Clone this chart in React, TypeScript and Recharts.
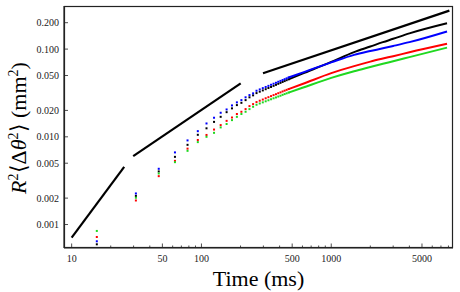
import React from 'react';
import { ComposedChart, XAxis, YAxis, Line, Scatter } from 'recharts';

const W = 460;
const H = 292;
const MARGIN = { top: 6, right: 7, bottom: 0, left: 0 };
const Y_AXIS_W = 64;
const X_AXIS_H = 44;
const FONT = '"Liberation Serif", "Times New Roman", serif';
const AXIS_COLOR = '#222';

const X_DOMAIN = [8.73, 8670];
const Y_DOMAIN = [0.00054, 0.31];

// sampled frames (every 15.625 ms)
const dotTimes = [15.625, 31.25, 46.875, 62.5, 78.125, 93.75, 109.375, 125, 140.625, 156.25, 171.875, 187.5, 203.125, 218.75, 234.375, 250, 265.625, 281.25, 296.875, 312.5, 328.125, 343.75, 359.375, 375, 390.625, 406.25, 421.875, 437.5, 453.125, 468.75];
const blueDots = [0.000644, 0.00226, 0.00432, 0.00664, 0.0091, 0.0116, 0.0142, 0.0165, 0.0188, 0.0205, 0.0228, 0.0247, 0.0262, 0.0282, 0.0299, 0.0313, 0.0335, 0.0347, 0.0359, 0.037, 0.0381, 0.0392, 0.0403, 0.0413, 0.0424, 0.0434, 0.0444, 0.0454, 0.0464, 0.0474];
const blackDots = [0.000595, 0.00212, 0.00403, 0.00591, 0.0081, 0.01054, 0.0125, 0.0148, 0.0169, 0.0191, 0.0211, 0.023, 0.0244, 0.0262, 0.0282, 0.0297, 0.0315, 0.0327, 0.0338, 0.0349, 0.036, 0.037, 0.0381, 0.0391, 0.0402, 0.0412, 0.0422, 0.0432, 0.0442, 0.0452];
const redDots = [0.000721, 0.00188, 0.00356, 0.00532, 0.00733, 0.0092, 0.0105, 0.0121, 0.0136, 0.0152, 0.0166, 0.0182, 0.0193, 0.0207, 0.0224, 0.0236, 0.0249, 0.0258, 0.0266, 0.0275, 0.0283, 0.0291, 0.0299, 0.0306, 0.0314, 0.0321, 0.0329, 0.0336, 0.0343, 0.035];
const greenDots = [0.000845, 0.00202, 0.00382, 0.00514, 0.00692, 0.0087, 0.01, 0.0111, 0.0128, 0.014, 0.0155, 0.0169, 0.0182, 0.0193, 0.0207, 0.022, 0.0232, 0.024, 0.0247, 0.0254, 0.0261, 0.0268, 0.0275, 0.0281, 0.0288, 0.0294, 0.0301, 0.0307, 0.0313, 0.0319];

// dense part (points merge into a band)
const denseTimes = [468.75, 600, 1000, 1500, 2000, 2500, 3000, 4000, 7800];
const blueDense = [0.0474, 0.054, 0.0705, 0.086, 0.095, 0.102, 0.1085, 0.12, 0.159];
const blackDense = [0.0452, 0.0525, 0.0715, 0.0925, 0.107, 0.12, 0.131, 0.151, 0.197];
const redDense = [0.035, 0.04, 0.0532, 0.064, 0.072, 0.078, 0.083, 0.092, 0.115];
const greenDense = [0.0319, 0.0362, 0.047, 0.056, 0.0625, 0.068, 0.0727, 0.081, 0.104];

// power-law guide lines
const fit1T = [10, 25.4];
const fit1V = [0.00071, 0.00455];
const fit2T = [29.8, 200.6];
const fit2V = [0.00603, 0.0407];
const fit3T = [298, 8128];
const fit3V = [0.053, 0.2745];

const xTicks = [10, 20, 30, 40, 50, 60, 70, 80, 90, 100, 200, 300, 400, 500, 600, 700, 800, 900, 1000, 2000, 3000, 4000, 5000, 6000, 7000, 8000];
const xTickLabels = [10, 50, 100, 500, 1000, 5000];
const yTicks = [0.001, 0.002, 0.005, 0.01, 0.02, 0.05, 0.1, 0.2];
const yTickLabels = ['0.001', '0.002', '0.005', '0.010', '0.020', '0.050', '0.100', '0.200'];

const COLORS = { blue: '#0000ff', black: '#000000', red: '#ff0000', green: '#1fd81f' };

const pts = (ts: number[], vs: number[]) => ts.map((t, i) => ({ t, v: vs[i] }));

const square = (color: string) => (p: any) => (
  <rect x={p.cx - 1} y={p.cy - 1} width={2} height={2} fill={color} />
);

const BottomTick = (p: any) => {
  const major = xTickLabels.includes(p.payload.value);
  return (
    <g>
      <line x1={p.x} y1={p.y} x2={p.x} y2={p.y - (major ? 4.5 : 2.5)} stroke={AXIS_COLOR} strokeWidth={0.8} />
      {major && (
        <text x={p.x} y={p.y + 14} textAnchor="middle" fontFamily={FONT} fontSize={10} fill="#222">
          {p.payload.value}
        </text>
      )}
    </g>
  );
};

const TopTick = (p: any) => {
  const major = xTickLabels.includes(p.payload.value);
  return <line x1={p.x} y1={p.y} x2={p.x} y2={p.y + (major ? 4.5 : 2.5)} stroke={AXIS_COLOR} strokeWidth={0.8} />;
};

const LeftTick = (p: any) => {
  const idx = yTicks.indexOf(p.payload.value);
  return (
    <g>
      <line x1={p.x} y1={p.y} x2={p.x + 4} y2={p.y} stroke={AXIS_COLOR} strokeWidth={0.8} />
      <text x={p.x - 5} y={p.y + 3.5} textAnchor="end" fontFamily={FONT} fontSize={10} fill="#222">
        {idx >= 0 ? yTickLabels[idx] : ''}
      </text>
    </g>
  );
};

const RightTick = (p: any) => (
  <line x1={p.x} y1={p.y} x2={p.x - 4} y2={p.y} stroke={AXIS_COLOR} strokeWidth={0.8} />
);

const PLOT_LEFT = MARGIN.left + Y_AXIS_W;
const PLOT_RIGHT = W - MARGIN.right;
const PLOT_TOP = MARGIN.top;
const PLOT_BOTTOM = H - X_AXIS_H;

const axisLineStyle = { stroke: AXIS_COLOR, strokeWidth: 1.2 };

export default function App() {
  const dotSeries = [
    { key: 'black', data: pts(dotTimes, blackDots), color: COLORS.black },
    { key: 'blue', data: pts(dotTimes, blueDots), color: COLORS.blue },
    { key: 'red', data: pts(dotTimes, redDots), color: COLORS.red },
    { key: 'green', data: pts(dotTimes, greenDots), color: COLORS.green },
  ];
  const denseSeries = [
    { key: 'blackD', data: pts(denseTimes, blackDense), color: COLORS.black },
    { key: 'blueD', data: pts(denseTimes, blueDense), color: COLORS.blue },
    { key: 'redD', data: pts(denseTimes, redDense), color: COLORS.red },
    { key: 'greenD', data: pts(denseTimes, greenDense), color: COLORS.green },
  ];
  const fits = [pts(fit1T, fit1V), pts(fit2T, fit2V), pts(fit3T, fit3V)];

  const cx = (PLOT_LEFT + PLOT_RIGHT) / 2;
  const cy = (PLOT_TOP + PLOT_BOTTOM) / 2;

  return (
    <div style={{ position: 'absolute', left: 0, top: 0, width: W, height: H, background: '#fff' }}>
      <ComposedChart width={W} height={H} margin={MARGIN}>
        <XAxis
          xAxisId={0}
          dataKey="t"
          type="number"
          scale="log"
          domain={X_DOMAIN}
          allowDataOverflow
          ticks={xTicks}
          interval={0}
          height={X_AXIS_H}
          tickSize={0}
          tickMargin={0}
          tick={BottomTick}
          stroke={AXIS_COLOR}
          axisLine={axisLineStyle}
        />
        <XAxis
          xAxisId="top"
          orientation="top"
          dataKey="t"
          type="number"
          scale="log"
          domain={X_DOMAIN}
          allowDataOverflow
          ticks={xTicks}
          interval={0}
          height={0}
          tickSize={0}
          tickMargin={0}
          tick={TopTick}
          stroke={AXIS_COLOR}
          axisLine={axisLineStyle}
        />
        <YAxis
          yAxisId={0}
          dataKey="v"
          type="number"
          scale="log"
          domain={Y_DOMAIN}
          allowDataOverflow
          ticks={yTicks}
          interval={0}
          width={Y_AXIS_W}
          tickSize={0}
          tickMargin={0}
          tick={LeftTick}
          stroke={AXIS_COLOR}
          axisLine={axisLineStyle}
        />
        <YAxis
          yAxisId="right"
          orientation="right"
          dataKey="v"
          type="number"
          scale="log"
          domain={Y_DOMAIN}
          allowDataOverflow
          ticks={yTicks}
          interval={0}
          width={0}
          tickSize={0}
          tickMargin={0}
          tick={RightTick}
          stroke={AXIS_COLOR}
          axisLine={axisLineStyle}
        />
        {denseSeries.map((s) => (
          <Line
            key={s.key}
            data={s.data}
            dataKey="v"
            type="monotone"
            stroke={s.color}
            strokeWidth={2}
            dot={false}
            activeDot={false}
            isAnimationActive={false}
          />
        ))}
        {dotSeries.map((s) => (
          <Scatter key={s.key} data={s.data} dataKey="v" fill={s.color} shape={square(s.color)} isAnimationActive={false} />
        ))}
        {fits.map((d, i) => (
          <Line
            key={'fit' + i}
            data={d}
            dataKey="v"
            type="linear"
            stroke="#000"
            strokeWidth={2.2}
            dot={false}
            activeDot={false}
            isAnimationActive={false}
          />
        ))}
      </ComposedChart>
      <svg width={W} height={H} style={{ position: 'absolute', left: 0, top: 0, pointerEvents: 'none' }}>
        <rect
          x={PLOT_LEFT + 0.5}
          y={PLOT_TOP + 0.5}
          width={PLOT_RIGHT - PLOT_LEFT - 1}
          height={PLOT_BOTTOM - PLOT_TOP - 1}
          fill="none"
          stroke={AXIS_COLOR}
          strokeWidth={1.2}
        />
        <text x={cx} y={286} textAnchor="middle" fontFamily={FONT} fontSize={22} fill="#000">
          Time (ms)
        </text>
        <text
          x={26}
          y={cy + 1}
          transform={`rotate(-90, 26, ${cy + 1})`}
          textAnchor="middle"
          fontFamily={FONT}
          fontSize={22}
          fill="#000"
        >
          <tspan fontStyle="italic">R</tspan>
          <tspan dy={-8} fontSize={14}>2</tspan>
          <tspan dy={8}>{'\u27E8\u0394'}</tspan>
          <tspan fontStyle="italic">{'\u03B8'}</tspan>
          <tspan dy={-8} fontSize={14}>2</tspan>
          <tspan dy={8}>{'\u27E9 (mm'}</tspan>
          <tspan dy={-8} fontSize={14}>2</tspan>
          <tspan dy={8}>)</tspan>
        </text>
      </svg>
    </div>
  );
}
